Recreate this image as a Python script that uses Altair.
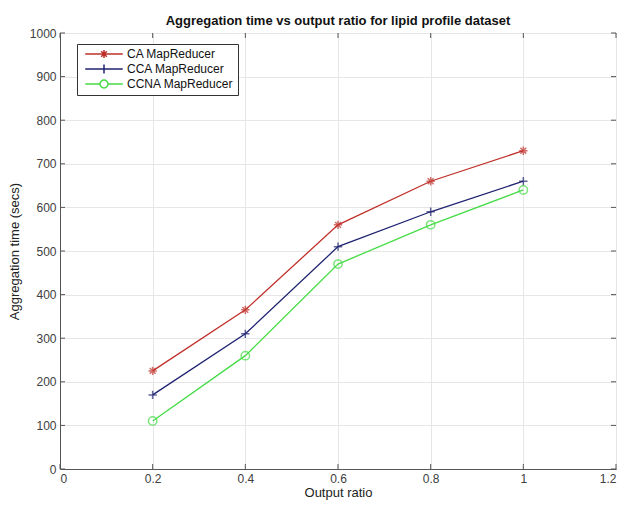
import altair as alt
import pandas as pd

ratios = [0.2, 0.4, 0.6, 0.8, 1.0]
series_names = ["CA MapReducer", "CCA MapReducer", "CCNA MapReducer"]
ca = [225, 365, 560, 660, 730]
cca = [170, 310, 510, 590, 660]
ccna = [110, 260, 470, 560, 640]
colors = ["#c0302a", "#1f2370", "#45dc45"]
x_ticks = [0, 0.2, 0.4, 0.6, 0.8, 1.0, 1.2]
y_ticks = [0, 100, 200, 300, 400, 500, 600, 700, 800, 900, 1000]

W, H = 556, 436

rows = []
for name, vals in zip(series_names, [ca, cca, ccna]):
    for r, v in zip(ratios, vals):
        rows.append({"ratio": r, "time": v, "series": name})
df = pd.DataFrame(rows)

xs = alt.Scale(domain=[0, 1.2], nice=False)
ys = alt.Scale(domain=[0, 1000], nice=False)

x = alt.X("ratio:Q", title="Output ratio", scale=xs,
          axis=alt.Axis(values=x_ticks, format=".1~f"))
y = alt.Y("time:Q", title="Aggregation time (secs)", scale=ys,
          axis=alt.Axis(values=y_ticks, format="d"))

color = alt.Color("series:N", scale=alt.Scale(domain=series_names, range=colors))

marker_paths = [
    "M-1,0H1M0,-1V1M-0.7,-0.7L0.7,0.7M-0.7,0.7L0.7,-0.7",
    "M-1,0H1M0,-1V1",
    "circle",
]
legend_paths = [
    "M-4,0H4M-0.85,0H0.85M0,-0.85V0.85M-0.6,-0.6L0.6,0.6M-0.6,0.6L0.6,-0.6",
    "M-4,0H4M0,-0.95V0.95",
    "M-4,0H-0.85M0.85,0H4M-0.85,0A0.85,0.85 0 1,0 0.85,0A0.85,0.85 0 1,0 -0.85,0",
]

base = alt.Chart(df)

lines = base.mark_line(strokeWidth=1.3).encode(x=x, y=y, color=color)

point_layers = []
for name, shp, col in zip(series_names, marker_paths, colors):
    point_layers.append(
        base.transform_filter(alt.datum.series == name)
        .mark_point(shape=shp, color=col, size=70, strokeWidth=1.5, filled=False)
        .encode(x=x, y=y)
    )

legend_layer = base.mark_point(opacity=0, size=70).encode(
    x=x, y=y,
    color=alt.Color("series:N", scale=alt.Scale(domain=series_names, range=colors),
                    legend=alt.Legend(title=None, orient="none", legendX=17, legendY=11,
                                      strokeColor="#333333", fillColor="white",
                                      padding=4, symbolOpacity=1, symbolStrokeWidth=1.5,
                                      symbolSize=88, labelFontSize=12, labelColor="#111111",
                                      labelFont="Liberation Sans", rowPadding=0,
                                      symbolOffset=17, labelOffset=17)),
    shape=alt.Shape("series:N", scale=alt.Scale(domain=series_names, range=legend_paths)),
)

# inward tick marks (MATLAB style box)
xt = pd.DataFrame({"t": x_ticks})
yt = pd.DataFrame({"t": y_ticks})
tick_col = "#555555"
bottom_ticks = alt.Chart(xt).mark_rule(color=tick_col).encode(
    x=alt.X("t:Q", scale=xs), y=alt.value(H), y2=alt.value(H - 5))
top_ticks = alt.Chart(xt).mark_rule(color=tick_col).encode(
    x=alt.X("t:Q", scale=xs), y=alt.value(0), y2=alt.value(5))
left_ticks = alt.Chart(yt).mark_rule(color=tick_col).encode(
    y=alt.Y("t:Q", scale=ys), x=alt.value(0), x2=alt.value(5))
right_ticks = alt.Chart(yt).mark_rule(color=tick_col).encode(
    y=alt.Y("t:Q", scale=ys), x=alt.value(W), x2=alt.value(W - 5))

chart = alt.layer(lines, *point_layers, legend_layer,
                  bottom_ticks, top_ticks, left_ticks, right_ticks).properties(
    width=W, height=H,
    title=alt.TitleParams("Aggregation time vs output ratio for lipid profile dataset",
                          fontSize=13, fontWeight="bold", font="Liberation Sans",
                          color="#111111", offset=-1),
    autosize=alt.AutoSizeParams(type="none"),
    padding={"left": 52, "top": 25, "right": 1, "bottom": 31},
).configure_view(stroke="#555555", strokeWidth=1).configure_axis(
    grid=True, gridColor="#e6e6e6", domainColor="#555555", tickSize=0,
    labelFont="Liberation Sans", labelFontSize=12, labelColor="#404040",
    titleFont="Liberation Sans", titleFontSize=13, titleFontWeight="normal",
    titleColor="#222222",
).configure_axisY(labelPadding=4, titlePadding=8).configure_axisX(labelPadding=4, titlePadding=2)

chart.save("out.html", embed_options={"renderer": "svg", "actions": False})
